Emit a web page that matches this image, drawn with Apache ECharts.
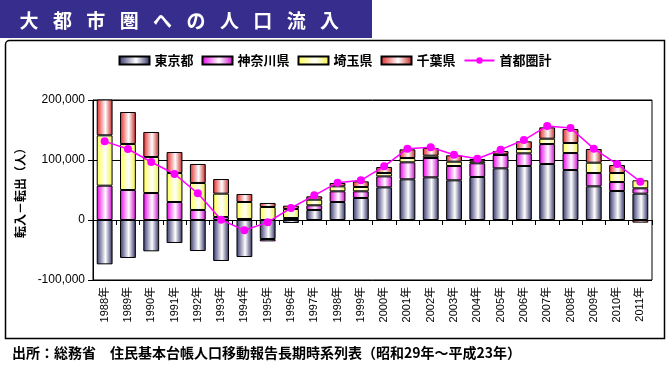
<!DOCTYPE html>
<html><head><meta charset="utf-8">
<script src="https://cdn.jsdelivr.net/npm/echarts@6/dist/echarts.min.js"></script>
<style>html,body{margin:0;padding:0;background:#fff}#c{width:670px;height:368px}</style>
</head><body><div id="c"></div>
<script>
const years = ['1988年','1989年','1990年','1991年','1992年','1993年','1994年','1995年','1996年','1997年','1998年','1999年','2000年','2001年','2002年','2003年','2004年','2005年','2006年','2007年','2008年','2009年','2010年','2011年'];
const tokyo    = [-73900,-63300,-52200,-38300,-51700,-68300,-61700,-31700,-5000,16700,30000,36700,54400,67800,71100,66100,71700,86100,90000,93300,83300,56100,48300,43900];
const kanagawa = [57200,50000,45000,30000,16700,5000,1700,-3900,3300,7800,17800,11100,18300,28300,32200,23900,22800,22200,21100,33300,28300,22200,15000,8900];
const saitama  = [83900,76700,60000,48300,45000,38900,28300,21700,15000,9400,8300,7200,5600,7200,3900,7200,3300,1000,7200,8900,16700,17200,15000,13300];
const chiba    = [63900,53300,41700,35000,31700,24400,13300,6700,5600,5600,5600,9400,10000,14400,12800,10600,3900,5600,12800,18900,23300,22800,13300,-4400];
const total    = [131100,118300,96700,76700,44400,500,-17200,-3900,20000,41100,62200,66100,89400,118900,121100,108900,102200,117200,133300,156700,153300,118900,93300,63900];
const seriesNames = ['東京都','神奈川県','埼玉県','千葉県','首都圏計'];
const yTicks = {min:-100000, max:200000, interval:100000};

const chart = echarts.init(document.getElementById('c'));
const FONT = '"Noto Sans CJK JP", "Liberation Sans", sans-serif';
function grad(edge, right){
  return new echarts.graphic.LinearGradient(0,0,1,0,[
    {offset:0,color:edge},{offset:0.55,color:'#ffffff'},{offset:1,color:right}]);
}
function bar(name, data, edge, right){
  return {name, type:'bar', stack:'s', data, barWidth:'68%', clip:true,
    itemStyle:{color:grad(edge,right), borderColor:'#000', borderWidth:1}};
}
const titleChars = '大都市圏への人口流入'.split('');
const graphics = [
  {type:'rect', shape:{x:0,y:-12,width:372,height:50,r:[0,12,0,0]}, style:{fill:'#372d8c'}, z:10},
  {type:'rect', shape:{x:5.5,y:40.5,width:659,height:298,r:[4,0,0,0]}, style:{fill:'none',stroke:'#000',lineWidth:1.5}, z:9},
  {type:'text', left:12, top:346, style:{text:'出所：総務省　住民基本台帳人口移動報告長期時系列表（昭和29年～平成23年）', font:'bold 14px '+FONT, fill:'#000'}}
];
titleChars.forEach((ch,i)=>{
  graphics.push({type:'text', x:29+i*33.4, y:21, z:11, style:{text:ch, font:'bold 19px '+FONT, fill:'#fff', align:'center', verticalAlign:'middle'}});
});

chart.setOption({
  animation:false,
  textStyle:{fontFamily:FONT},
  graphic:graphics,
  legend:{top:49, left:'center', itemWidth:30, itemHeight:8, itemGap:8,
    textStyle:{fontSize:13, fontWeight:'bold', color:'#000', fontFamily:FONT},
    data:seriesNames.map((n,i)=> i<4 ? {name:n, icon:'rect'} : {name:n})},
  grid:{left:93, right:18, top:100, bottom:88, show:true, borderColor:'#000', borderWidth:1},
  xAxis:{type:'category', data:years,
    axisLine:{lineStyle:{color:'#000'}},
    axisTick:{show:true, length:5, lineStyle:{color:'#000'}},
    axisLabel:{rotate:90, fontSize:11, color:'#000', margin:7, fontFamily:'"Liberation Sans", "Noto Sans CJK JP", sans-serif'}},
  yAxis:{type:'value', min:yTicks.min, max:yTicks.max, interval:yTicks.interval,
    name:'転入－転出（人）', nameLocation:'middle', nameGap:60, nameRotate:90,
    nameTextStyle:{fontSize:12, fontWeight:'bold', color:'#000', fontFamily:FONT},
    axisLine:{show:true, lineStyle:{color:'#000'}},
    axisTick:{show:true, length:5, lineStyle:{color:'#000'}},
    splitLine:{lineStyle:{color:'#000', width:1}},
    axisLabel:{fontSize:12, color:'#000', margin:8, fontFamily:'"Liberation Sans", sans-serif',
      formatter:v=>v.toLocaleString('en-US')}},
  series:[
    bar(seriesNames[0], tokyo, '#34346e', '#2a2a60'),
    bar(seriesNames[1], kanagawa, '#e800e8', '#d000d0'),
    bar(seriesNames[2], saitama, '#ffff50', '#f0f040'),
    bar(seriesNames[3], chiba, '#e02828', '#c82020'),
    {name:seriesNames[4], type:'line', data:total, z:5, symbol:'circle', symbolSize:8,
      lineStyle:{color:'#ff00ff', width:1.5}, itemStyle:{color:'#ff00ff'}}
  ]
});
</script></body></html>
